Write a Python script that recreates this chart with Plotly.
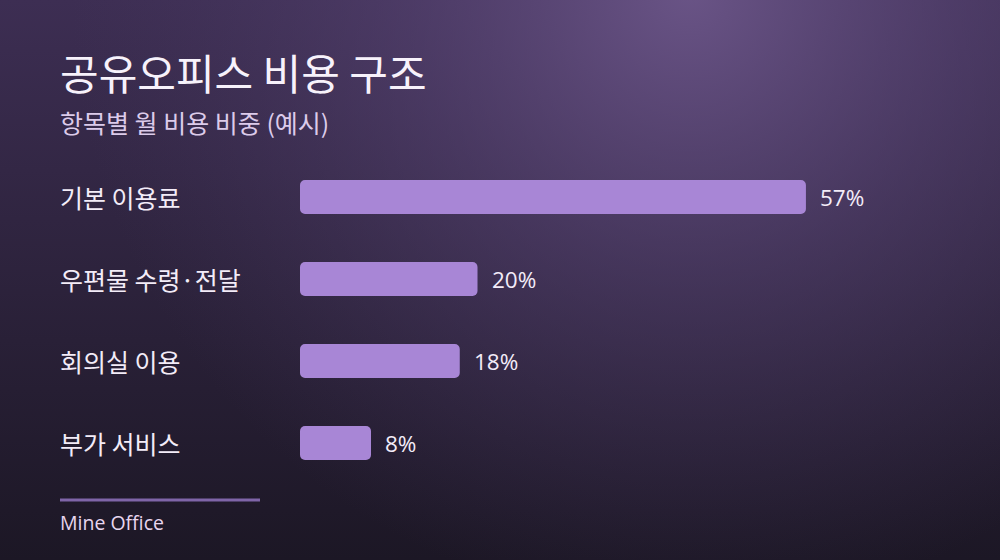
import base64
import plotly.graph_objects as go

categories = ["기본 이용료", "우편물 수령·전달", "회의실 이용", "부가 서비스"]
shares = [57, 20, 18, 8]
value_labels = ["57%", "20%", "18%", "8%"]

title_text = "공유오피스 비용 구조"
subtitle_text = "항목별 월 비용 비중 (예시)"
source_text = "Mine Office"

FONT = "Noto Sans CJK KR, Noto Sans, sans-serif"
LATIN = "Open Sans, Noto Sans, sans-serif"
BAR = "#a886d6"

# background gradient as an inline svg image
bg_svg = """<svg xmlns='http://www.w3.org/2000/svg' width='1000' height='560'>
<defs>
<linearGradient id='lg' x1='0' y1='0' x2='0' y2='1'>
<stop offset='0' stop-color='#3d2e53'/><stop offset='1' stop-color='#1c1725'/>
</linearGradient>
<radialGradient id='rg' gradientUnits='userSpaceOnUse' cx='690' cy='-10' r='620'>
<stop offset='0' stop-color='#6c5689' stop-opacity='0.95'/>
<stop offset='0.45' stop-color='#5c4879' stop-opacity='0.5'/>
<stop offset='1' stop-color='#4a3a63' stop-opacity='0'/>
</radialGradient>
</defs>
<rect width='1000' height='560' fill='url(#lg)'/>
<rect width='1000' height='560' fill='url(#rg)'/>
</svg>"""
bg_uri = "data:image/svg+xml;base64," + base64.b64encode(bg_svg.encode()).decode()

# explicit base so both ends of each bar get rounded corners
fig = go.Figure(go.Bar(
    x=shares, base=[0] * len(shares), y=categories, orientation="h", width=0.415,
    marker=dict(color=BAR, cornerradius=5, line_width=0), hoverinfo="skip",
))

annotations = [
    dict(text=title_text, xref="paper", yref="paper", x=0.058, y=(560 - 71) / 560,
         xanchor="left", yanchor="middle", showarrow=False,
         font=dict(family=FONT, size=42, color="#f7f2fb")),
    dict(text=subtitle_text, xref="paper", yref="paper", x=0.058, y=(560 - 122) / 560,
         xanchor="left", yanchor="middle", showarrow=False,
         font=dict(family=FONT, size=25, color="#dccbea")),
    dict(text=source_text, xref="paper", yref="paper", x=0.058, y=(560 - 522) / 560,
         xanchor="left", yanchor="middle", showarrow=False,
         font=dict(family=LATIN, size=19.5, color="#e8d6ef")),
]
for cat, val, lab in zip(categories, shares, value_labels):
    annotations.append(dict(text=cat, xref="paper", yref="y", x=0.058, y=cat,
                            xanchor="left", yanchor="middle", showarrow=False,
                            font=dict(family=FONT, size=25, color="#f3ecf8")))
    annotations.append(dict(text=lab, xref="x", yref="y", x=val, y=cat, xshift=12,
                            xanchor="left", yanchor="middle", showarrow=False,
                            font=dict(family=LATIN, size=22.5, color="#f3ecf8")))

fig.update_layout(
    width=1000, height=560,
    margin=dict(l=0, r=0, t=0, b=0),
    paper_bgcolor="#2a2138", plot_bgcolor="rgba(0,0,0,0)",
    showlegend=False,
    images=[dict(source=bg_uri, xref="paper", yref="paper", x=0, y=1,
                 sizex=1, sizey=1, sizing="stretch", xanchor="left", yanchor="top",
                 layer="below")],
    shapes=[dict(type="line", xref="paper", yref="paper", x0=0.06, x1=0.26,
                 y0=(560 - 500) / 560, y1=(560 - 500) / 560,
                 line=dict(color="#7f65a8", width=3))],
    annotations=annotations,
    xaxis=dict(domain=[0.3, 0.9], range=[0, 67.6], visible=False, fixedrange=True),
    yaxis=dict(domain=[76 / 560, 404 / 560], range=[3.5, -0.5], visible=False,
               fixedrange=True),
)

fig.write_html("out.html", config={"displayModeBar": False},
               post_script="document.body.style.margin='0';")
